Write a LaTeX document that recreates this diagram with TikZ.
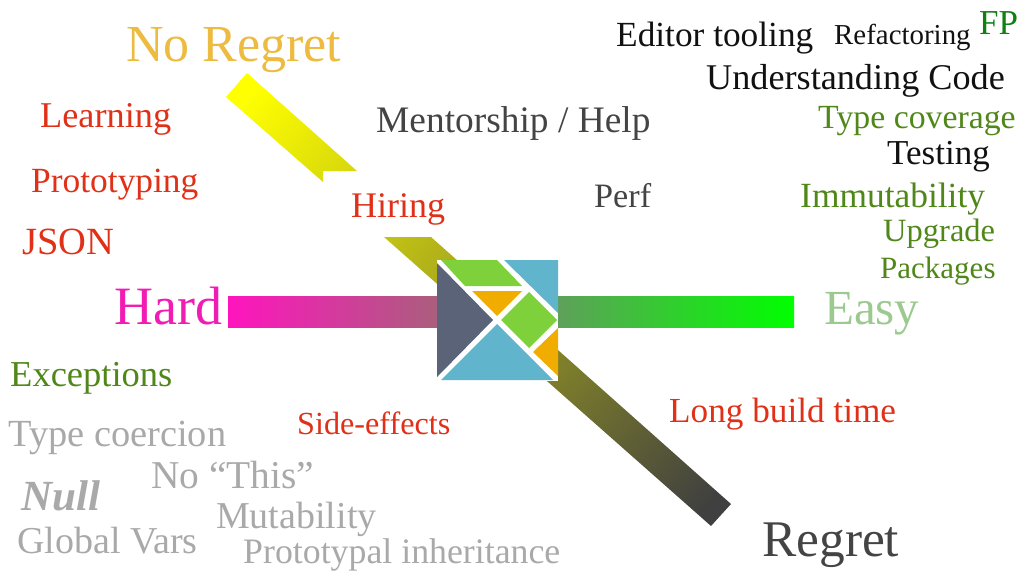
\documentclass[tikz,border=0pt]{standalone}
\usepackage{fontspec}
\setmainfont{Liberation Serif}
\usepackage{xcolor}
\definecolor{wordred}{RGB}{224,48,24}
\definecolor{wordgold}{RGB}{237,187,63}
\definecolor{wordpink}{RGB}{240,28,180}
\definecolor{wordpale}{RGB}{156,201,143}
\definecolor{wordgreen}{RGB}{80,135,25}
\definecolor{wordfp}{RGB}{16,128,16}
\definecolor{wordgrey}{RGB}{169,169,169}
\definecolor{worddark}{RGB}{68,68,68}
\definecolor{wordblack}{RGB}{17,17,17}
\definecolor{elmslate}{RGB}{90,99,120}
\definecolor{elmgreen}{RGB}{127,209,59}
\definecolor{elmorange}{RGB}{240,173,0}
\definecolor{elmblue}{RGB}{96,181,204}
\definecolor{barpink}{RGB}{255,20,190}
\definecolor{barmauve}{RGB}{170,95,125}
\definecolor{barsage}{RGB}{95,160,90}
\definecolor{barlime}{RGB}{0,255,0}
\definecolor{bandyellow}{RGB}{255,255,0}
\definecolor{banddark}{RGB}{64,64,64}
\pgfdeclareverticalshading{bandshade}{100bp}{color(0bp)=(banddark); color(18bp)=(banddark); color(82bp)=(bandyellow); color(100bp)=(bandyellow)}
\tikzset{
    word/.style={anchor=base west, inner sep=0pt, yshift=-1pt, font=\fontsize{#1}{#1}\selectfont},
    redword/.style={word=#1, text=wordred},
    greenword/.style={word=#1, text=wordgreen},
    greyword/.style={word=#1, text=wordgrey},
    darkword/.style={word=#1, text=worddark},
    blackword/.style={word=#1, text=wordblack},
}

\begin{document}
\begin{tikzpicture}[x=1pt, y=-1pt]
    \useasboundingbox (0,0) rectangle (1024,576);

    \shade[left color=barpink, right color=barmauve] (228,296) rectangle (438,327);
    \shade[left color=barsage, right color=barlime] (557,296) rectangle (794,327);
    \shade[shading=bandshade, shading angle=48]
        (247,73) -- (357,171) -- (323,171) -- (323,182) -- (226,97) -- cycle
        (384,237) -- (431,237) -- (731,504) -- (711,526) -- cycle;

    \fill[white] (437,260) rectangle (558,381);
    \fill[elmslate] (437,263) -- (493,320) -- (437,377) -- cycle;
    \fill[elmgreen] (441,260) -- (497,260) -- (522,286) -- (465,286) -- cycle;
    \fill[elmorange] (472,291) -- (522,291) -- (497,316) -- cycle;
    \fill[elmblue] (504,260) -- (558,260) -- (558,313) -- cycle;
    \fill[elmgreen] (529,292) -- (557,320) -- (529,348) -- (501,320) -- cycle;
    \fill[elmorange] (558,328) -- (558,376) -- (533,352) -- cycle;
    \fill[elmblue] (497,324) -- (553,380) -- (441,380) -- cycle;

    \node[word=52, text=wordgold] (noregret) at (126,60) {No Regret};
    \node[word=51.4, text=worddark] (regret) at (762,555) {Regret};
    \node[word=54, text=wordpink] (hard) at (114,323) {Hard};
    \node[word=49, text=wordpale] (easy) at (824,323) {Easy};

    \node[redword=36.3] (learning) at (40,126) {Learning};
    \node[redword=35.4] (prototyping) at (31,191) {Prototyping};
    \node[redword=38.5] (json) at (22,253) {JSON};
    \node[redword=36] (hiring) at (351,216) {Hiring};
    \node[redword=32.2] (sideeffects) at (297,433) {Side-effects};
    \node[redword=35.2] (buildtime) at (669,421) {Long build time};

    \node[darkword=37.4] (mentorship) at (376,131) {Mentorship / Help};
    \node[darkword=34.2] (perf) at (594,206) {Perf};

    \node[blackword=35.3] (editor) at (616,45) {Editor tooling};
    \node[blackword=28.9] (refactoring) at (834,43) {Refactoring};
    \node[word=35, text=wordfp] (fp) at (979,33) {FP};
    \node[blackword=36.2] (understanding) at (706,88) {Understanding Code};
    \node[blackword=35] (testing) at (887,163) {Testing};

    \node[greenword=33.8] (coverage) at (818,127) {Type coverage};
    \node[greenword=35.4] (immutability) at (800,206) {Immutability};
    \node[greenword=32.5] (upgrade) at (883,240) {Upgrade};
    \node[greenword=31] (packages) at (880,277) {Packages};
    \node[greenword=36.5] (exceptions) at (10,385) {Exceptions};

    \node[greyword=38.4] (coercion) at (8,445) {Type coercion};
    \node[greyword=39.4] (nothis) at (151,487) {No “This”};
    \node[greyword=43] (null) at (21,509) {\textbf{\textit{Null}}};
    \node[greyword=38] (mutability) at (216,527) {Mutability};
    \node[greyword=38] (globalvars) at (17,552) {Global Vars};
    \node[greyword=35.8] (inheritance) at (243,562) {Prototypal inheritance};
\end{tikzpicture}
\end{document}
